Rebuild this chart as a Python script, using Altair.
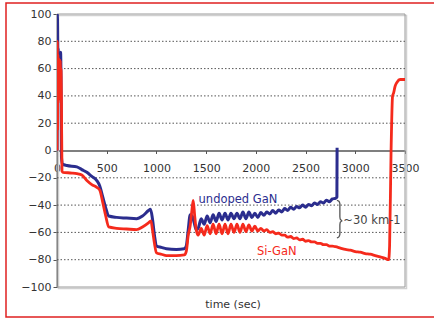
import altair as alt
import pandas as pd

# ---- data ----
blue_t = [0, 4, 8, 12, 16, 20, 24, 28, 32, 36, 40, 45, 55, 100, 200, 250, 300, 350, 400, 430, 460, 490, 520,
          600, 700, 800, 860, 920, 940, 960, 980, 1000, 1050, 1100, 1200, 1280, 1300, 1320, 1340, 1360,
          1380, 1400, 1420, 1450, 1480, 1510, 1540, 1570, 1600, 1630, 1660, 1690, 1720, 1750, 1780,
          1810, 1840, 1870, 1900, 1930, 1960, 1990, 2020, 2050, 2080, 2110, 2140, 2170, 2200, 2230,
          2260, 2290, 2320, 2350, 2380, 2410, 2440, 2470, 2500, 2530, 2560, 2590, 2620, 2650, 2680,
          2710, 2740, 2770, 2800, 2815, 2817]
blue_v = [0, 100, 75, 74, 45, 62, 38, 65, 48, 72, 55, -5, -10, -11, -12, -14, -16, -19, -22, -26, -34, -42, -48,
          -49, -49.5, -50, -48, -44, -43, -50, -62, -70, -71, -72, -72.5, -72, -70, -58, -47, -48,
          -53, -58, -57, -50, -54, -48, -53, -47, -52, -46, -51, -46, -51, -46, -50,
          -46, -50, -45, -50, -45, -49, -46, -49, -45.5, -47.5, -45, -46.5, -44, -46, -43.5,
          -45, -42.5, -44, -41.5, -43, -41, -42, -40, -41.5, -39.5, -40.5, -38.5, -39.5, -37.5, -38.5,
          -36.5, -37.5, -35.5, -35, -34, 2]

red_t = [0, 3, 6, 9, 12, 15, 18, 21, 24, 27, 30, 33, 36, 40, 45, 50, 60, 150, 200, 250, 300, 350, 400, 430,
         460, 490, 520, 600, 700, 800, 860, 920, 945, 960, 980, 1000, 1050, 1100, 1200, 1280, 1300, 1320,
         1340, 1355, 1370, 1385, 1400, 1420, 1450, 1480, 1510, 1540, 1570, 1600, 1630, 1660, 1690, 1720,
         1750, 1780, 1810, 1840, 1870, 1900, 1930, 1960, 1990, 2020, 2050, 2080, 2110, 2140, 2170,
         2200, 2230, 2260, 2290, 2320, 2350, 2380, 2410, 2440, 2470, 2500, 2530, 2560, 2590, 2620,
         2650, 2680, 2710, 2740, 2770, 2800, 2850, 2900, 2950, 3000, 3050, 3100, 3150, 3200, 3250,
         3300, 3335, 3345, 3360, 3375, 3385, 3400, 3420, 3450, 3500]
red_v = [0, 80, 15, 70, 35, 68, 40, 65, 50, 62, 38, 66, 55, 60, 35, -15, -16, -16.5, -17, -18, -22, -25, -27,
         -29, -38, -48, -56, -57, -57.5, -58, -56, -53, -51.5, -58, -68, -75, -76, -77, -77, -76.5, -74, -62,
         -55, -45, -36.5, -48, -58, -62, -57, -62, -55, -61, -54, -61, -54, -61, -54, -61,
         -54, -60, -54, -60, -54, -59.5, -54.5, -59, -55.5, -59, -57, -59, -58, -60, -59.5,
         -61, -60.5, -62, -62, -63.5, -63, -64.5, -64, -65.5, -65, -66.5, -66, -67, -67, -68,
         -68, -69, -69, -70, -70, -70.5, -71.5, -72.5, -73, -74, -74.5, -75.5, -76, -77, -78,
         -79, -80, -70, 0, 40, 42, 47, 50, 52, 52]

brace_t = [2815, 2835, 2845, 2845, 2850, 2870, 2850, 2845, 2845, 2835, 2815]
brace_v = [-36.5, -37.2, -39, -48.5, -50.5, -51.5, -52.5, -54.5, -61.5, -63.3, -64]

label_text = ["undoped GaN", "Si-GaN", "~30 km-1"]
label_t = [1820, 2210, 2880]
label_v = [-36.5, -74, -51.5]

title_text = "time (sec)"

y_ticks = [-100, -80, -60, -40, -20, 0, 20, 40, 60, 80, 100]
y_grid = [-80, -60, -40, -20, 20, 40, 60, 80]
x_ticks = [0, 500, 1000, 1500, 2000, 2500, 3000, 3500]

BLUE = "#2b2d8e"
RED = "#f52a1c"
W, H = 348, 273

blue_df = pd.DataFrame({"t": blue_t, "v": blue_v, "i": range(len(blue_t))})
red_df = pd.DataFrame({"t": red_t, "v": red_v, "i": range(len(red_t))})
brace_df = pd.DataFrame({"t": brace_t, "v": brace_v, "i": range(len(brace_t))})
lab_df = pd.DataFrame({"text": label_text, "t": label_t, "v": label_v,
                       "c": [BLUE, RED, "#444444"]})

xs = alt.Scale(domain=[0, 3500], nice=False, zero=False)
ys = alt.Scale(domain=[-100, 100], nice=False)

x_axis = alt.Axis(values=x_ticks, title=None, offset=-H / 2, format="d", domainColor="#555555",
                  domainWidth=1.5, tickColor="#555555", tickSize=3, labelPadding=9,
                  labelFontSize=11, labelFont="DejaVu Sans", labelColor="#333333",
                  grid=False, labelFlush=False, labelOverlap=False)
y_axis = alt.Axis(values=y_ticks, title=None, format="d", domainColor="#555555", domainWidth=1.5,
                  tickColor="#555555", tickSize=4, labelPadding=2, labelFontSize=11,
                  labelFont="DejaVu Sans", labelColor="#333333", grid=False,
                  labelFlush=False, labelOverlap=False)

X = lambda f: alt.X(f, scale=xs, axis=x_axis)
Y = lambda f: alt.Y(f, scale=ys, axis=y_axis)

grid = alt.Chart(pd.DataFrame({"g": y_grid})).mark_rule(
    color="#555555", strokeDash=[1.5, 2], strokeWidth=1
).encode(y=Y("g:Q"), x=alt.value(0), x2=alt.value(W))

blue = alt.Chart(blue_df).mark_line(color=BLUE, strokeWidth=3, clip=True, interpolate="monotone").encode(
    x=X("t:Q"), y=Y("v:Q"), order="i:Q")
red = alt.Chart(red_df).mark_line(color=RED, strokeWidth=2.8, clip=True, interpolate="monotone").encode(
    x=X("t:Q"), y=Y("v:Q"), order="i:Q")
brace = alt.Chart(brace_df).mark_line(color="#555555", strokeWidth=1.3, interpolate="monotone").encode(
    x=X("t:Q"), y=Y("v:Q"), order="i:Q")

lab_center = alt.Chart(lab_df.iloc[:2]).mark_text(fontSize=11.5, font="DejaVu Sans", baseline="middle",
                                                align="center").encode(
    x=X("t:Q"), y=Y("v:Q"), text="text:N", color=alt.Color("c:N", scale=None))
lab_left = alt.Chart(lab_df.iloc[2:]).mark_text(fontSize=11.5, font="DejaVu Sans", baseline="middle",
                                              align="left").encode(
    x=X("t:Q"), y=Y("v:Q"), text="text:N", color=alt.Color("c:N", scale=None))

one = alt.Data(values=[{"title": title_text}])
title = alt.Chart(one).mark_text(fontSize=11, font="DejaVu Sans", color="#333333", align="center",
                                 baseline="middle", clip=False).encode(
    text="title:N", x=alt.value(W / 2 + 2), y=alt.value(H + 18))
shadow = alt.Chart(one).mark_rect(fill=None, stroke="#d0d0d0", strokeWidth=1.5, clip=False).encode(
    x=alt.value(1.5), x2=alt.value(W + 1.5), y=alt.value(1.5), y2=alt.value(H + 1.5))
frame = alt.Chart(one).mark_rect(fill=None, stroke="#9a9a9a", strokeWidth=1, clip=False).encode(
    x=alt.value(0), x2=alt.value(W), y=alt.value(0), y2=alt.value(H))
border = alt.Chart(one).mark_rect(fill=None, stroke="#e02020", strokeWidth=1.5, clip=False).encode(
    x=alt.value(-51), x2=alt.value(W + 40), y=alt.value(-11), y2=alt.value(H + 30))

chart = alt.layer(shadow, frame, grid, blue, red, brace, lab_center, lab_left, title, border).properties(
    width=W, height=H,
    autosize=alt.AutoSizeParams(type="none"),
    padding={"left": 57, "top": 14, "right": 29, "bottom": 33},
    background="white",
).configure_view(stroke=None)

chart.save("out.html", embed_options={"renderer": "svg", "actions": False})
